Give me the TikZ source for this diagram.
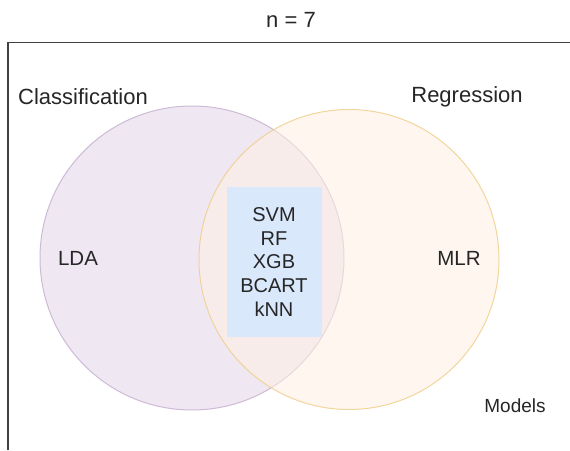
\documentclass[tikz,border=0pt]{standalone}
\usepackage{fontspec}
\setmainfont{Liberation Sans}
\begin{document}
\begin{tikzpicture}[x=1pt,y=-1pt,
  label/.style={text=black!85, inner sep=0pt, font=\fontsize{22}{26}\selectfont},
  setA/.style={draw=classstroke, fill=classfill, line width=1pt},
  setB/.style={draw=regstroke, fill=regfill, line width=1pt},
  shared/.style={fill=sharedfill, minimum width=95pt, minimum height=150pt, inner sep=0pt,
    text=black!85, align=center, font=\fontsize{20}{23.75}\selectfont}]
\definecolor{classfill}{HTML}{EFE8F2}
\definecolor{classstroke}{HTML}{CDBBD6}
\definecolor{regfill}{HTML}{FFF0E2}
\definecolor{regstroke}{HTML}{EFCF8C}
\definecolor{sharedfill}{HTML}{DAE8FC}
\useasboundingbox (0,0) rectangle (570,450);
% outer frame
\draw[black!75, line width=1.4pt] (8,450) -- (8,42.5) -- (570,42.5);
% the two sets
\node[setA, circle, minimum size=304pt, inner sep=0pt] (cls) at (192,258) {};
\node[setB, circle, minimum size=300pt, inner sep=0pt, fill opacity=0.55, draw opacity=0.85] (reg) at (349,259.5) {};
% models belonging to both sets
\node[shared] (both) at (274,262) {SVM\\RF\\XGB\\BCART\\kNN};
% labels
\node[label] (title) at (291,20) {n = 7};
\node[label] (clsname) at (83,97) {Classification};
\node[label] (regname) at (467,97) {Regression};
\node[label, font=\fontsize{20.5}{24}\selectfont] (lda) at (78,258) {LDA};
\node[label, font=\fontsize{20.5}{24}\selectfont] (mlr) at (459,258) {MLR};
\node[label, font=\fontsize{19}{22}\selectfont] (models) at (515,406) {Models};
\end{tikzpicture}
\end{document}
